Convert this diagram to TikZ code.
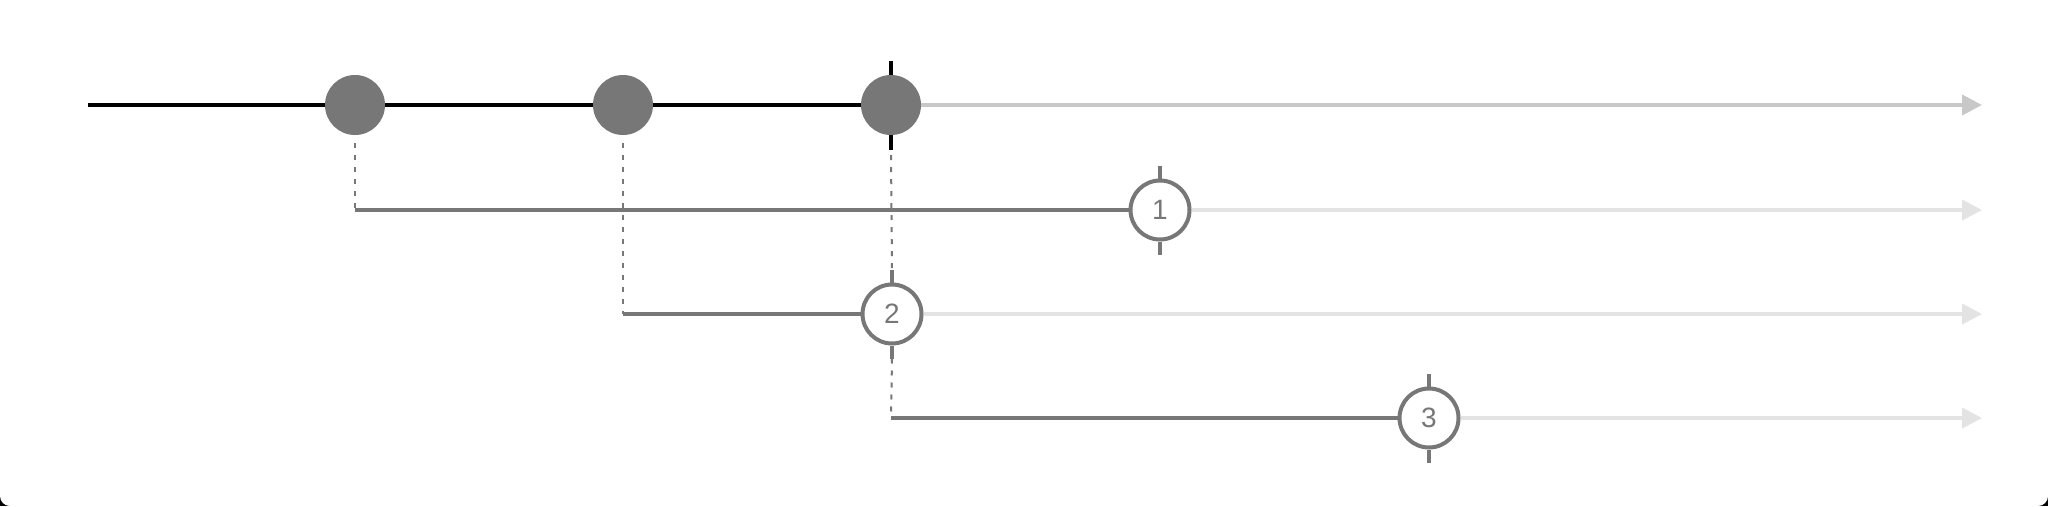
\documentclass[tikz,border=0pt]{standalone}
\usepackage{fontspec}
\setmainfont{Liberation Sans}
\usepackage{xcolor}
\usetikzlibrary{arrows.meta}
\definecolor{marblegray}{HTML}{777777}
\definecolor{futuregray}{HTML}{C8C8C8}
\definecolor{fadegray}{HTML}{E3E3E3}

\begin{document}
\begin{tikzpicture}[x=1pt, y=-1pt,
    srcmarble/.style={circle, fill=marblegray, minimum size=60pt, inner sep=0pt},
    outmarble/.style={circle, draw=marblegray, line width=4pt, fill=white, minimum size=59pt, inner sep=0pt, text=marblegray, font=\fontsize{28}{32}\selectfont},
    srcline/.style={line width=4pt, black},
    resline/.style={line width=4pt, marblegray},
    futurearrow/.style={-{Triangle[length=20pt, width=20pt]}, line width=4pt, futuregray},
    fadearrow/.style={-{Triangle[length=20pt, width=20pt]}, line width=4pt, fadegray},
    dashlink/.style={marblegray, line width=2pt, dash pattern=on 5pt off 7pt},
    marktick/.style={line width=4pt}]

    % frame
    \useasboundingbox (0,0) rectangle (2048,506);
    \fill[black] (0,486) rectangle (2048,506);
    \fill[white, rounded corners=10pt] (0,0) rectangle (2048,506);
    \fill[white] (0,0) rectangle (2048,40);

    % source stream
    \coordinate (m0) at (88,105);
    \coordinate (m1) at (1982,105);
    \node[srcmarble] (e1) at (355,105) {};
    \node[srcmarble] (e2) at (623,105) {};
    \node[srcmarble] (e3) at (891,105) {};
    \draw[srcline] (m0) -- (e1.west);
    \draw[srcline] (e1.east) -- (e2.west);
    \draw[srcline] (e2.east) -- (e3.west);
    \draw[futurearrow] (e3.east) -- (m1);
    \draw[marktick, black] (e3.north) -- ++(0,-14);
    \draw[marktick, black] (e3.south) -- ++(0,15);

    % result streams
    \coordinate (s1) at (355,210); \coordinate (t1) at (1982,210);
    \coordinate (s2) at (623,314); \coordinate (t2) at (1982,314);
    \coordinate (s3) at (891,418); \coordinate (t3) at (1982,418);
    \node[outmarble] (r1) at (1160,210) {1};
    \node[outmarble] (r2) at (892,314) {2};
    \node[outmarble] (r3) at (1429,418) {3};

    \draw[dashlink] ([yshift=-8pt]e1.south) -- (s1);
    \draw[dashlink] ([yshift=-8pt]e2.south) -- (s2);
    \draw[dashlink] ([yshift=-20pt]e3.south) -- ([yshift=13pt]r2.north);
    \draw[dashlink] ([yshift=-13pt]r2.south) -- (s3);

    \draw[resline] (s1) -- (r1.west); \draw[fadearrow] (r1.east) -- (t1);
    \draw[resline] (s2) -- (r2.west); \draw[fadearrow] (r2.east) -- (t2);
    \draw[resline] (s3) -- (r3.west); \draw[fadearrow] (r3.east) -- (t3);

    \foreach \r in {r1,r2,r3} {
        \draw[marktick, marblegray] (\r.north) -- ++(0,-13);
        \draw[marktick, marblegray] (\r.south) -- ++(0,13);
    }
\end{tikzpicture}
\end{document}
